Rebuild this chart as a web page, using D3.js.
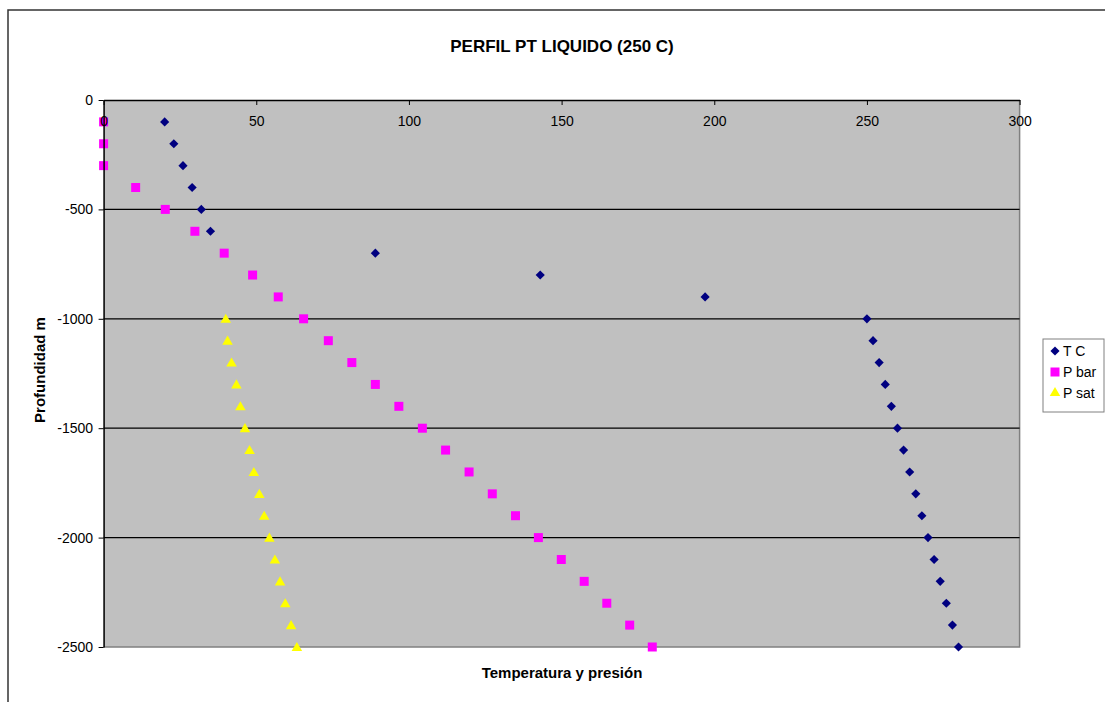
<!DOCTYPE html>
<html>
<head>
<meta charset="utf-8">
<script src="https://cdn.jsdelivr.net/npm/d3@7/dist/d3.min.js"></script>
<style>
  html, body { margin: 0; padding: 0; background: #fff; }
  svg { display: block; font-family: "Liberation Sans", Arial, sans-serif; }
</style>
</head>
<body>
<svg id="chart" width="1105" height="702"></svg>
<script>
// ---- Data ----
const depths = [-100,-200,-300,-400,-500,-600,-700,-800,-900,-1000,-1100,-1200,-1300,-1400,-1500,-1600,-1700,-1800,-1900,-2000,-2100,-2200,-2300,-2400,-2500];
const tempC  = [20,23,26,29,32,35,89,143,197,250,252,254,256,258,260,262,264,266,268,270,272,274,276,278,280];
const pBar   = [0,0,0,10.5,20.2,29.9,39.5,48.8,57.2,65.5,73.6,81.3,89,96.7,104.4,112,119.7,127.3,134.9,142.4,149.9,157.4,164.8,172.3,179.7];
const satDepths = [-1000,-1100,-1200,-1300,-1400,-1500,-1600,-1700,-1800,-1900,-2000,-2100,-2200,-2300,-2400,-2500];
const pSat   = [40.0,40.6,41.9,43.5,44.8,46.3,47.8,49.2,51.0,52.6,54.3,56.1,57.8,59.5,61.4,63.3];
const xTicks = [0,50,100,150,200,250,300];
const yTicks = [0,-500,-1000,-1500,-2000,-2500];
const seriesNames = ["T C","P bar","P sat"];
const titleText = "PERFIL PT LIQUIDO (250 C)";
const xTitle = "Temperatura y presión";
const yTitle = "Profundidad m";

// ---- Layout ----
const svg = d3.select("#chart");
const L = 103.6, R = 1019.6, T = 100, B = 647;
const x = d3.scaleLinear().domain([0,300]).range([L,R]);
const y = d3.scaleLinear().domain([-2500,0]).range([B,T]);
const FONT = "'Liberation Sans', Arial, sans-serif";

// outer chart border
svg.append("path").attr("d","M8,702 L8,10 L1105,10")
  .attr("fill","none").attr("stroke","#333").attr("stroke-width",1.5);

// plot area
svg.append("rect").attr("x",L).attr("y",T).attr("width",R-L).attr("height",B-T)
  .attr("fill","#c0c0c0");
svg.append("path").attr("d",`M${L},${B} L${R},${B} L${R},${T}`)
  .attr("fill","none").attr("stroke","#808080").attr("stroke-width",1.5);

// gridlines
svg.append("g").selectAll("line").data(yTicks.filter(v=>v!==0 && v!==-2500)).join("line")
  .attr("x1",L).attr("x2",R).attr("y1",d=>y(d)).attr("y2",d=>y(d))
  .attr("stroke","#000").attr("stroke-width",1.2);

// series
const sym = (type,size)=>d3.symbol().type(type).size(size)();
const tcData = depths.map((d,i)=>({x:tempC[i], y:d}));
const pbData = depths.map((d,i)=>({x:pBar[i], y:d}));
const psData = satDepths.map((d,i)=>({x:pSat[i], y:d}));

svg.append("g").selectAll("path").data(psData).join("path")
  .attr("d",sym(d3.symbolTriangle,48))
  .attr("transform",d=>`translate(${x(d.x)},${y(d.y)+1})`)
  .attr("fill","#ffff00");
svg.append("g").selectAll("path").data(pbData).join("path")
  .attr("d",sym(d3.symbolSquare,81))
  .attr("transform",d=>`translate(${x(d.x)},${y(d.y)})`)
  .attr("fill","#ff00ff");
svg.append("g").selectAll("path").data(tcData).join("path")
  .attr("d",sym(d3.symbolSquare,42))
  .attr("transform",d=>`translate(${x(d.x)},${y(d.y)}) rotate(45)`)
  .attr("fill","#000080");

// axes
const fmt = d => String(d);
const xAxis = d3.axisBottom(x).tickValues(xTicks).tickFormat(fmt).tickSize(5).tickSizeOuter(0).tickPadding(11);
const gx = svg.append("g").attr("transform",`translate(0,${T})`).call(xAxis);
gx.select(".domain").attr("stroke","#000").attr("stroke-width",1.5);
gx.selectAll(".tick line").attr("stroke","#000");
gx.selectAll(".tick text").attr("font-size",14).attr("fill","#000").attr("font-family",FONT);

const yAxis = d3.axisLeft(y).tickValues(yTicks).tickFormat(fmt).tickSize(5).tickSizeOuter(0).tickPadding(5.5);
const gy = svg.append("g").attr("transform",`translate(${L},0)`).call(yAxis);
gy.select(".domain").attr("stroke","#000").attr("stroke-width",1.5);
gy.selectAll(".tick line").attr("stroke","#000");
gy.selectAll(".tick text").attr("font-size",14).attr("fill","#000").attr("font-family",FONT);

// titles
svg.append("text").attr("x",562).attr("y",52).attr("text-anchor","middle")
  .attr("font-size",17).attr("font-weight","bold").text(titleText);
svg.append("text").attr("x",562).attr("y",678).attr("text-anchor","middle")
  .attr("font-size",15).attr("font-weight","bold").text(xTitle);
svg.append("text").attr("transform","translate(45,370) rotate(-90)").attr("text-anchor","middle")
  .attr("font-size",15).attr("font-weight","bold").text(yTitle);

// legend
const lg = svg.append("g");
lg.append("rect").attr("x",1043).attr("y",339).attr("width",61).attr("height",73)
  .attr("fill","#fff").attr("stroke","#808080").attr("stroke-width",1);
const legendItems = [
  {name:seriesNames[0], type:d3.symbolSquare, size:42, color:"#000080", rot:45},
  {name:seriesNames[1], type:d3.symbolSquare, size:81, color:"#ff00ff", rot:0},
  {name:seriesNames[2], type:d3.symbolTriangle, size:48, color:"#ffff00", rot:0}
];
legendItems.forEach((it,i)=>{
  const cy = 351 + i*21;
  lg.append("path").attr("d",sym(it.type,it.size))
    .attr("transform",`translate(1055,${cy}) rotate(${it.rot})`).attr("fill",it.color);
  lg.append("text").attr("x",1063).attr("y",cy+5).attr("font-size",14).text(it.name);
});
</script>
</body>
</html>
